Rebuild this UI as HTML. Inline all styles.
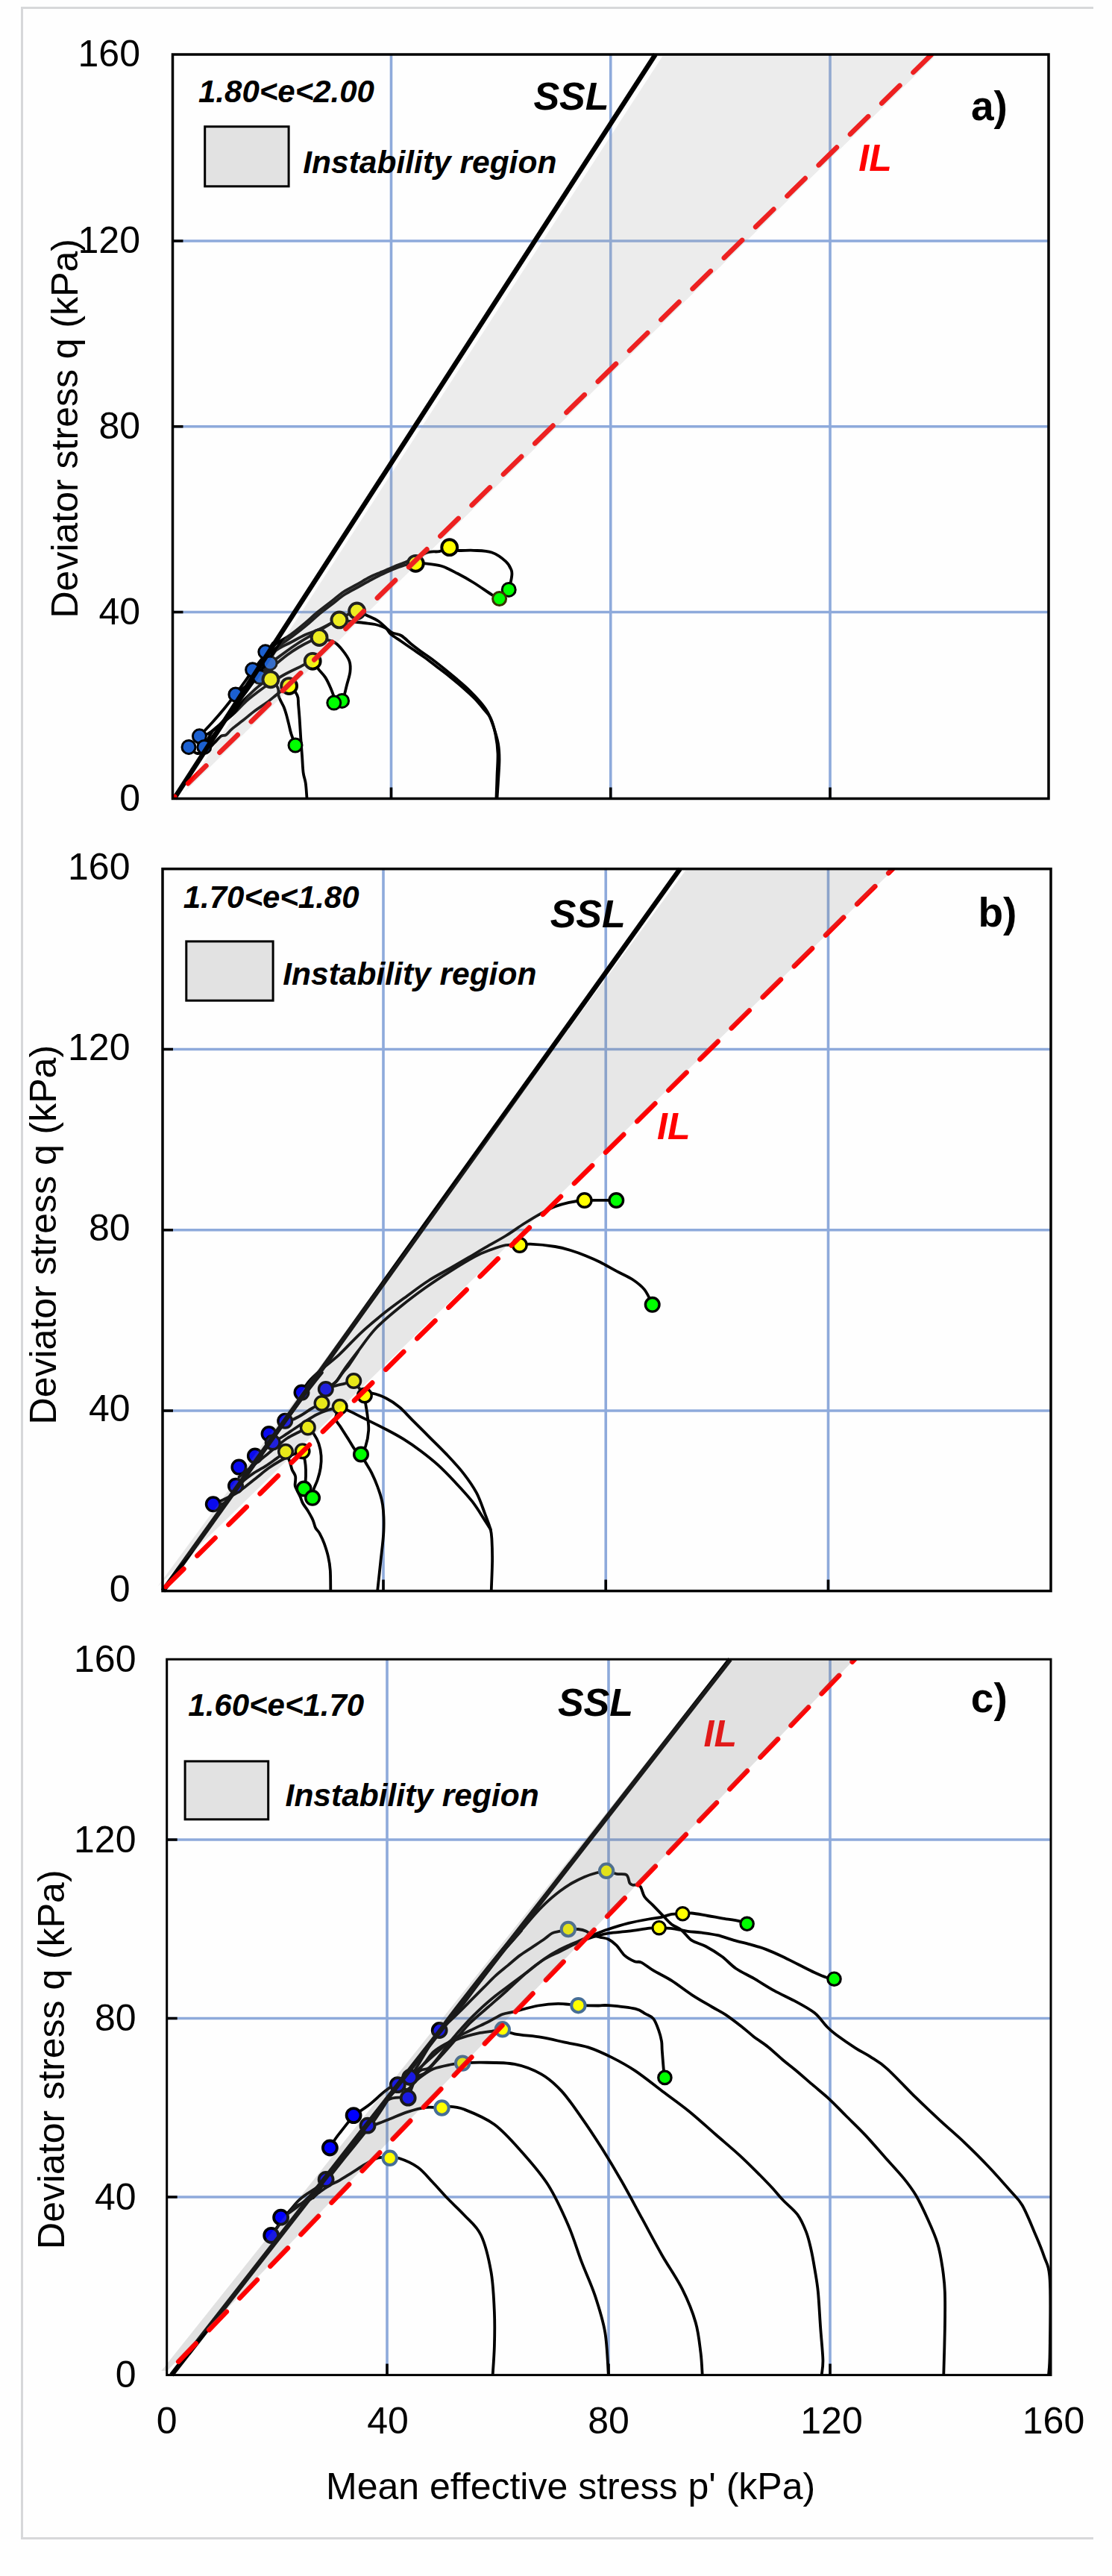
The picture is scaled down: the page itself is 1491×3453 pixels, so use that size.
<!DOCTYPE html><html><head><meta charset="utf-8"><style>
html,body{margin:0;padding:0;background:#fff;}
svg{display:block;}
text{font-family:"Liberation Sans", sans-serif;}
</style></head><body>
<svg width="1491" height="3453" viewBox="0 0 1491 3453">
<defs>
<clipPath id="clipa"><rect x="231.5" y="73" width="1174.5" height="997.5"/></clipPath>
<clipPath id="clipb"><rect x="218" y="1164.7" width="1191" height="967.8999999999999"/></clipPath>
<clipPath id="clipc"><rect x="223.7" y="2224.2" width="1185.3" height="959.4000000000001"/></clipPath>
</defs>
<rect x="0" y="0" width="1491" height="3453" fill="#fefefe"/>
<path d="M1466 10.5 H29.5 V3402.5 H1466" fill="none" stroke="#d7d8da" stroke-width="3"/>
<path d="M524.5 73V1070.5M818.75 73V1070.5M1113 73V1070.5M231.5 323H1406M231.5 571.75H1406M231.5 820.5H1406" stroke="#8eaadb" stroke-width="3.6" fill="none"/>
<g clip-path="url(#clipa)">
<path d="M666.6 1068.6C666.8 1065.0 667.5 1055.4 668.0 1047.0C668.5 1038.6 669.5 1026.3 669.5 1018.0C669.5 1009.7 669.2 1004.2 668.0 997.0C666.8 989.8 664.3 982.0 662.0 975.0C659.7 968.0 657.0 960.7 654.0 955.0C651.0 949.3 648.2 946.0 644.0 941.0C639.8 936.0 634.3 930.2 629.0 925.0C623.7 919.8 617.7 914.8 612.0 910.0C606.3 905.2 600.8 900.7 595.0 896.0C589.2 891.3 582.2 885.8 577.0 882.0C571.8 878.2 568.3 876.2 564.0 873.0C559.7 869.8 555.3 866.5 551.0 863.0C546.7 859.5 542.5 854.7 538.0 852.0C533.5 849.3 529.0 850.2 524.0 847.0C519.0 843.8 513.3 836.7 508.0 833.0C502.7 829.3 496.9 827.3 492.0 825.0C487.1 822.7 483.6 818.8 478.6 819.0C473.6 819.2 467.9 823.2 462.0 826.0C456.1 828.8 449.2 832.8 443.0 836.0C436.8 839.2 430.7 842.5 425.0 845.0C419.3 847.5 414.8 848.3 409.0 851.0C403.2 853.7 396.5 857.5 390.0 861.0C383.5 864.5 374.7 867.5 370.0 872.0C365.3 876.5 363.0 885.3 361.6 888.0" fill="none" stroke="#000" stroke-width="3.8" stroke-linejoin="round" stroke-linecap="round"/>
<path d="M665.5 1068.6C665.7 1063.8 666.2 1049.8 666.5 1040.0C666.8 1030.2 667.8 1019.2 667.5 1010.0C667.2 1000.8 666.1 992.8 664.5 985.0C662.9 977.2 660.6 968.7 658.0 963.0C655.4 957.3 652.7 955.5 649.0 951.0C645.3 946.5 640.7 940.8 636.0 936.0C631.3 931.2 626.5 926.8 621.0 922.0C615.5 917.2 608.8 911.7 603.0 907.0C597.2 902.3 591.7 898.3 586.0 894.0C580.3 889.7 574.5 885.0 569.0 881.0C563.5 877.0 558.3 873.7 553.0 870.0C547.7 866.3 541.8 862.3 537.0 859.0C532.2 855.7 527.3 852.8 524.0 850.0C520.7 847.2 520.5 844.2 517.0 842.0C513.5 839.8 507.8 838.2 503.0 837.0C498.2 835.8 493.5 835.7 488.0 835.0C482.5 834.3 475.5 833.7 470.0 833.0C464.5 832.3 459.9 830.1 454.9 830.9C449.9 831.7 445.8 834.8 440.0 838.0C434.2 841.2 426.7 846.0 420.0 850.0C413.3 854.0 406.7 857.7 400.0 862.0C393.3 866.3 386.3 871.3 380.0 876.0C373.7 880.7 367.3 884.8 362.0 890.0C356.7 895.2 350.6 904.6 348.3 907.5" fill="none" stroke="#000" stroke-width="3.8" stroke-linejoin="round" stroke-linecap="round"/>
<path d="M682.2 790.4C682.8 787.8 685.2 779.3 685.8 775.0C686.4 770.7 687.1 768.4 685.8 764.7C684.5 761.0 682.6 756.6 678.2 752.6C673.8 748.6 666.5 743.0 659.3 740.5C652.1 738.0 642.6 738.2 635.0 737.8C627.4 737.3 618.9 738.5 613.5 737.8C608.1 737.1 606.8 733.5 602.7 733.7C598.7 733.9 593.7 738.1 589.2 739.1C584.7 740.1 580.6 738.8 575.7 739.9C570.8 741.0 565.1 743.8 560.0 746.0C554.9 748.2 550.3 750.7 545.0 753.0C539.7 755.3 533.5 757.4 528.0 759.7C522.5 762.0 517.3 764.3 512.0 766.6C506.7 768.9 501.6 770.7 496.0 773.5C490.4 776.3 484.5 780.1 478.6 783.4C472.7 786.7 466.7 789.3 460.8 793.3C454.9 797.3 448.9 802.6 443.0 807.2C437.1 811.8 430.8 816.4 425.2 821.0C419.6 825.6 415.3 829.9 409.4 834.9C403.5 839.9 395.6 846.4 389.6 850.7C383.7 855.0 379.3 856.8 373.7 860.6C368.1 864.5 358.8 871.6 355.8 873.8" fill="none" stroke="#000" stroke-width="3.8" stroke-linejoin="round" stroke-linecap="round"/>
<path d="M669.6 802.5C667.9 801.6 665.1 800.7 659.3 797.1C653.5 793.5 642.6 785.7 635.0 781.0C627.4 776.3 620.7 772.5 613.5 768.8C606.3 765.1 599.1 761.0 591.9 758.8C584.7 756.5 576.1 755.9 570.3 755.3C564.5 754.7 561.5 755.0 557.3 755.3C553.1 755.6 549.5 755.9 545.0 757.0C540.5 758.1 535.2 760.0 530.0 762.0C524.8 764.0 519.3 766.5 514.0 769.0C508.7 771.5 503.7 774.0 498.0 777.0C492.3 780.0 486.0 783.7 480.0 787.0C474.0 790.3 467.8 793.2 462.0 797.0C456.2 800.8 450.8 805.5 445.0 810.0C439.2 814.5 432.7 819.3 427.0 824.0C421.3 828.7 416.8 833.2 411.0 838.0C405.2 842.8 398.0 848.5 392.0 853.0C386.0 857.5 380.0 861.2 375.0 865.0C370.0 868.8 366.5 871.8 362.0 876.0C357.5 880.2 351.9 886.4 348.0 890.0C344.1 893.6 340.2 896.5 338.6 897.8" fill="none" stroke="#000" stroke-width="3.8" stroke-linejoin="round" stroke-linecap="round"/>
<path d="M458.6 939.4C459.1 938.4 460.2 936.5 461.3 933.1C462.4 929.7 463.5 924.1 464.9 918.7C466.2 913.3 468.8 906.1 469.4 900.7C470.0 895.3 470.1 891.1 468.5 886.3C466.9 881.5 462.8 876.1 459.5 871.9C456.2 867.7 452.3 863.6 448.7 861.2C445.1 858.8 441.3 858.7 437.9 857.6C434.5 856.5 431.9 854.2 428.1 854.6C424.3 855.0 419.7 857.8 415.0 860.0C410.3 862.2 405.0 865.0 400.0 868.0C395.0 871.0 390.0 874.3 385.0 878.0C380.0 881.7 375.8 885.5 370.0 890.0C364.2 894.5 356.3 900.3 350.0 905.0C343.7 909.7 337.7 913.7 332.0 918.0C326.3 922.3 318.6 928.8 315.9 931.0" fill="none" stroke="#000" stroke-width="3.8" stroke-linejoin="round" stroke-linecap="round"/>
<path d="M447.8 942.1C447.8 940.9 448.6 938.2 447.8 934.9C447.1 931.6 445.2 926.8 443.3 922.3C441.4 917.8 438.8 912.1 436.1 907.9C433.4 903.7 429.9 900.7 427.1 897.1C424.3 893.5 423.7 886.6 419.2 886.3C414.7 885.9 406.5 891.9 400.0 895.0C393.5 898.1 386.3 901.5 380.0 905.0C373.7 908.5 367.8 912.2 362.0 916.0C356.2 919.8 350.3 924.0 345.0 928.0C339.7 932.0 335.0 935.5 330.0 940.0C325.0 944.5 320.0 950.3 315.0 955.0C310.0 959.7 305.0 963.8 300.0 968.0C295.0 972.2 289.4 974.4 285.0 980.0C280.6 985.6 275.7 997.8 273.8 1001.4" fill="none" stroke="#000" stroke-width="3.8" stroke-linejoin="round" stroke-linecap="round"/>
<path d="M396.0 999.0C395.1 996.4 391.9 988.3 390.4 983.6C388.9 978.9 388.3 974.9 387.2 970.6C386.1 966.3 385.0 961.5 383.9 957.7C382.8 953.9 382.0 951.2 380.7 948.0C379.4 944.8 377.0 941.0 375.8 938.3C374.6 935.6 373.9 934.5 373.4 931.8C372.9 929.1 374.4 925.6 372.6 922.1C370.9 918.6 366.9 911.3 362.9 910.8C358.8 910.2 353.4 915.0 348.3 918.8C343.2 922.6 337.5 928.3 332.1 933.4C326.7 938.5 320.6 945.0 316.0 949.6C311.4 954.2 308.7 956.9 304.6 960.9C300.6 964.9 296.0 970.1 291.7 973.9C287.4 977.7 282.8 981.5 278.7 983.6C274.6 985.8 269.3 986.3 267.4 986.8" fill="none" stroke="#000" stroke-width="3.8" stroke-linejoin="round" stroke-linecap="round"/>
<path d="M411.4 1068.6C411.1 1065.5 410.6 1055.5 409.8 1050.0C409.0 1044.5 407.4 1041.6 406.6 1035.4C405.8 1029.2 405.6 1020.3 405.0 1012.7C404.4 1005.1 403.9 998.1 403.3 990.0C402.8 981.9 402.2 971.8 401.7 964.2C401.2 956.7 400.6 950.1 400.1 944.7C399.6 939.3 400.6 936.0 398.5 931.8C396.4 927.6 391.7 920.1 387.6 919.6C383.6 919.1 379.1 925.0 374.2 928.6C369.3 932.2 363.4 937.5 358.0 941.5C352.6 945.5 347.2 948.8 341.8 952.8C336.4 956.8 330.7 961.8 325.6 965.8C320.5 969.8 314.9 973.9 311.1 977.1C307.3 980.3 305.4 983.6 303.0 985.2C300.6 986.8 299.2 984.9 296.5 986.8C293.8 988.7 289.6 993.8 286.8 996.5C284.1 999.2 283.6 1000.8 280.0 1003.0C276.4 1005.2 269.5 1010.3 265.0 1010.0C260.5 1009.7 255.0 1002.8 253.0 1001.4" fill="none" stroke="#000" stroke-width="3.8" stroke-linejoin="round" stroke-linecap="round"/>
<path d="M273.8 1001.4C276.8 997.5 286.0 985.7 292.0 978.0C298.0 970.3 304.3 962.5 310.0 955.0C315.7 947.5 320.7 940.3 326.0 933.0C331.3 925.7 337.0 918.2 342.0 911.0C347.0 903.8 351.7 896.5 356.0 890.0C360.3 883.5 364.0 877.3 368.0 872.0C372.0 866.7 378.0 860.3 380.0 858.0" fill="none" stroke="#000" stroke-width="3.8" stroke-linejoin="round" stroke-linecap="round"/>
<path d="M267.4 986.8C270.3 983.7 279.1 974.6 285.0 968.0C290.9 961.4 297.2 954.2 303.0 947.0C308.8 939.8 314.5 932.3 320.0 925.0C325.5 917.7 330.7 910.2 336.0 903.0C341.3 895.8 347.0 888.8 352.0 882.0C357.0 875.2 363.7 865.3 366.0 862.0" fill="none" stroke="#000" stroke-width="3.8" stroke-linejoin="round" stroke-linecap="round"/>
<circle cx="682.2" cy="790.4" r="9" fill="#00ff00" stroke="#000" stroke-width="3"/>
<circle cx="458.6" cy="939.4" r="9" fill="#00ff00" stroke="#000" stroke-width="3"/>
<circle cx="447.8" cy="942.1" r="9" fill="#00ff00" stroke="#000" stroke-width="3"/>
<circle cx="396" cy="999" r="9" fill="#00ff00" stroke="#000" stroke-width="3"/>
<circle cx="669.6" cy="802.5" r="9" fill="#00ff00" stroke="#3a3200" stroke-width="3"/>
<circle cx="253" cy="1001.4" r="9" fill="#1c60d0" stroke="#000" stroke-width="3"/>
<circle cx="267.4" cy="986.8" r="9" fill="#1c60d0" stroke="#000" stroke-width="3"/>
<circle cx="273.8" cy="1001.4" r="9" fill="#1c60d0" stroke="#000" stroke-width="3"/>
<circle cx="315.9" cy="931" r="9" fill="#1c60d0" stroke="#000" stroke-width="3"/>
<circle cx="338.6" cy="897.8" r="9" fill="#1c60d0" stroke="#000" stroke-width="3"/>
<circle cx="348.3" cy="907.5" r="9" fill="#1c60d0" stroke="#000" stroke-width="3"/>
<circle cx="355.8" cy="873.8" r="9" fill="#1c60d0" stroke="#000" stroke-width="3"/>
<circle cx="362.1" cy="888.9" r="9" fill="#1c60d0" stroke="#000" stroke-width="3"/>
<circle cx="602.7" cy="733.7" r="10.45" fill="#ffff00" stroke="#000" stroke-width="3.9"/>
<circle cx="557.3" cy="755.3" r="10.45" fill="#ffff00" stroke="#000" stroke-width="3.9"/>
<circle cx="478.6" cy="819" r="10.45" fill="#ffff00" stroke="#000" stroke-width="3.9"/>
<circle cx="454.9" cy="830.9" r="10.45" fill="#ffff00" stroke="#000" stroke-width="3.9"/>
<circle cx="428.1" cy="854.6" r="10.45" fill="#ffff00" stroke="#000" stroke-width="3.9"/>
<circle cx="419.2" cy="886.3" r="10.45" fill="#ffff00" stroke="#000" stroke-width="3.9"/>
<circle cx="362.9" cy="910.8" r="10.45" fill="#ffff00" stroke="#000" stroke-width="3.9"/>
<circle cx="387.6" cy="919.6" r="10.45" fill="#ffff00" stroke="#000" stroke-width="3.9"/>
</g>
<path d="M233.5 1070.5 L878.8 73" stroke="#000" stroke-width="6.5" fill="none"/>
<g clip-path="url(#clipa)"><path d="M231.5 1070.5 L1249 73" stroke="#ff0000" stroke-width="6.6" stroke-dasharray="33.9 25.3" stroke-dashoffset="30.2" stroke-linecap="round" fill="none"/></g>
<polygon points="246,1064 888.2,75.5 1253.4,75.5 240,1069" fill="#a3a3a3" fill-opacity="0.2"/>
<rect x="231.5" y="73" width="1174.5" height="997.5" fill="none" stroke="#000" stroke-width="3.5"/>
<path d="M231.5 323H245.5M231.5 571.75H245.5M231.5 820.5H245.5M524.5 1070.5V1055.5M818.75 1070.5V1055.5M1113 1070.5V1055.5" stroke="#000" stroke-width="3.6" fill="none"/>
<text x="188.0" y="89" font-size="50" text-anchor="end">160</text>
<text x="188.0" y="339" font-size="50" text-anchor="end">120</text>
<text x="188.0" y="587.75" font-size="50" text-anchor="end">80</text>
<text x="188.0" y="836.5" font-size="50" text-anchor="end">40</text>
<text x="188.0" y="1086.5" font-size="50" text-anchor="end">0</text>
<text transform="translate(104 574.25) rotate(-90)" font-size="50" text-anchor="middle">Deviator stress q (kPa)</text>
<text x="266" y="136.5" font-size="42" font-weight="bold" font-style="italic">1.80&lt;e&lt;2.00</text>
<rect x="274.7" y="169.7" width="112.40000000000003" height="80.10000000000002" fill="#e2e2e2" stroke="#000" stroke-width="3"/>
<text x="406.3" y="232.4" font-size="42.5" font-weight="bold" font-style="italic">Instability region</text>
<text x="715.4" y="147" font-size="52" font-weight="bold" font-style="italic">SSL</text>
<text x="1151.3" y="229" font-size="50" font-weight="bold" font-style="italic" fill="#ff0000">IL</text>
<text x="1301.9" y="161" font-size="55" font-weight="bold">a)</text>
<path d="M514 1164.7V2132.6M812.25 1164.7V2132.6M1110.5 1164.7V2132.6M218 1406.5H1409M218 1648.75H1409M218 1891H1409" stroke="#8eaadb" stroke-width="3.6" fill="none"/>
<g clip-path="url(#clipb)">
<path d="M826.3 1609.0C819.2 1609.0 794.6 1608.5 783.7 1609.0C772.8 1609.5 767.5 1610.9 761.0 1612.3C754.5 1613.7 750.3 1614.9 744.4 1617.2C738.5 1619.5 732.7 1622.5 725.8 1626.3C718.9 1630.1 710.9 1635.0 703.0 1640.0C695.1 1645.0 687.2 1651.0 678.2 1656.5C669.2 1662.0 657.5 1668.3 649.2 1673.1C640.9 1677.9 636.2 1681.0 628.6 1685.5C621.0 1690.0 612.7 1694.8 603.7 1700.0C594.7 1705.2 584.4 1710.3 574.8 1716.5C565.1 1722.7 556.1 1729.6 545.8 1737.2C535.4 1744.8 523.0 1753.7 512.7 1762.0C502.4 1770.3 493.5 1777.8 483.8 1786.8C474.1 1795.8 463.8 1807.5 454.8 1815.8C445.8 1824.1 436.8 1830.5 430.0 1836.5C423.2 1842.5 418.2 1847.0 414.0 1852.0C409.8 1857.0 406.1 1864.2 404.5 1866.6" fill="none" stroke="#000" stroke-width="3.8" stroke-linejoin="round" stroke-linecap="round"/>
<path d="M874.7 1748.8C873.0 1745.5 868.8 1734.5 864.3 1728.9C859.8 1723.3 854.2 1719.1 848.0 1715.0C841.8 1710.9 834.3 1707.9 827.1 1704.1C819.9 1700.3 811.9 1695.5 805.0 1692.0C798.1 1688.5 792.5 1686.1 785.8 1683.4C779.1 1680.7 771.9 1678.1 765.0 1676.0C758.1 1673.9 753.4 1672.4 744.4 1671.0C735.4 1669.6 719.2 1668.0 711.3 1667.7C703.4 1667.4 702.3 1668.7 696.8 1668.9C691.3 1669.1 685.0 1667.8 678.2 1669.0C671.4 1670.2 662.9 1673.5 656.0 1676.0C649.1 1678.5 645.5 1679.6 636.8 1684.3C628.1 1689.0 614.7 1697.1 603.7 1704.1C592.7 1711.0 581.6 1718.2 570.6 1726.0C559.6 1733.8 548.6 1742.0 537.6 1751.0C526.6 1760.0 514.2 1769.9 504.5 1780.0C494.8 1790.1 486.7 1802.5 479.6 1811.7C472.5 1820.9 466.9 1828.2 462.0 1835.0C457.1 1841.8 454.3 1848.3 450.0 1852.7C445.7 1857.1 438.5 1859.9 436.2 1861.3" fill="none" stroke="#000" stroke-width="3.8" stroke-linejoin="round" stroke-linecap="round"/>
<path d="M658.8 2131.0C659.0 2124.6 660.0 2103.8 660.1 2092.8C660.2 2081.8 659.9 2072.1 659.5 2065.0C659.1 2057.9 659.2 2055.9 657.7 2050.1C656.2 2044.2 653.6 2038.1 650.5 2029.9C647.4 2021.8 643.8 2010.3 639.0 2001.2C634.2 1992.1 628.4 1983.9 621.7 1975.3C615.0 1966.7 606.4 1957.6 598.7 1949.4C591.0 1941.2 583.4 1934.0 575.7 1926.3C568.0 1918.6 559.4 1910.0 552.7 1903.3C546.0 1896.6 541.2 1890.8 535.4 1886.0C529.6 1881.2 524.3 1877.6 518.1 1874.5C511.9 1871.4 502.9 1868.0 498.0 1867.3C493.1 1866.6 490.4 1870.0 488.9 1870.5" fill="none" stroke="#000" stroke-width="3.8" stroke-linejoin="round" stroke-linecap="round"/>
<path d="M657.7 2050.1C656.5 2048.2 654.6 2044.8 650.5 2038.6C646.4 2032.4 639.9 2021.3 633.2 2012.7C626.5 2004.1 617.9 1995.0 610.2 1986.8C602.5 1978.6 594.9 1970.7 587.2 1963.7C579.5 1956.7 571.9 1950.8 564.2 1945.0C556.5 1939.2 548.9 1934.0 541.2 1929.2C533.5 1924.4 526.7 1920.8 518.1 1916.3C509.5 1911.8 498.0 1906.2 489.4 1901.9C480.8 1897.6 471.8 1893.0 466.3 1890.4C460.8 1887.8 458.0 1887.1 456.4 1886.4" fill="none" stroke="#000" stroke-width="3.8" stroke-linejoin="round" stroke-linecap="round"/>
<path d="M506.3 2131.0C507.0 2124.6 509.0 2105.9 510.4 2092.8C511.8 2079.7 513.9 2064.9 514.4 2052.3C514.9 2039.7 514.5 2027.2 513.1 2017.3C511.8 2007.4 508.8 2000.2 506.3 1993.0C503.8 1985.8 500.9 1979.6 498.2 1974.1C495.5 1968.6 492.4 1964.1 490.0 1960.0C487.6 1955.9 485.0 1951.2 484.0 1949.5" fill="none" stroke="#000" stroke-width="3.8" stroke-linejoin="round" stroke-linecap="round"/>
<path d="M484.0 1949.5C485.0 1947.8 488.4 1944.3 490.1 1939.0C491.8 1933.7 493.8 1924.1 494.2 1917.4C494.6 1910.7 493.5 1904.7 492.8 1898.6C492.1 1892.5 490.8 1885.7 490.1 1881.0C489.5 1876.3 489.1 1872.2 488.9 1870.5" fill="none" stroke="#000" stroke-width="3.8" stroke-linejoin="round" stroke-linecap="round"/>
<path d="M484.0 1949.5C482.7 1948.5 478.7 1946.5 476.0 1943.3C473.3 1940.1 471.1 1935.5 467.9 1930.4C464.6 1925.3 459.5 1917.5 456.5 1912.6C453.5 1907.7 450.1 1905.7 450.0 1901.2C449.9 1896.7 454.8 1888.4 455.7 1885.8" fill="none" stroke="#000" stroke-width="3.8" stroke-linejoin="round" stroke-linecap="round"/>
<path d="M443.3 2131.0C443.2 2126.7 443.3 2112.2 442.8 2104.9C442.3 2097.6 441.5 2092.9 440.1 2086.9C438.8 2080.9 436.6 2074.2 434.7 2068.9C432.8 2063.7 430.4 2058.9 428.5 2055.4C426.6 2051.9 424.6 2051.2 423.1 2048.2C421.6 2045.2 421.1 2041.1 419.5 2037.4C417.9 2033.7 415.4 2029.5 413.2 2025.8C410.9 2022.1 407.8 2018.3 406.0 2015.0C404.2 2011.7 403.9 2009.3 402.4 2006.0C400.9 2002.7 398.1 1997.5 397.0 1995.0C395.9 1992.5 395.8 1993.4 395.6 1990.7C395.5 1988.0 396.8 1982.5 396.1 1979.0C395.4 1975.5 392.9 1973.2 391.6 1970.0C390.4 1966.8 390.0 1963.5 388.6 1959.5C387.2 1955.5 383.9 1948.1 383.0 1945.8" fill="none" stroke="#000" stroke-width="3.8" stroke-linejoin="round" stroke-linecap="round"/>
<path d="M419.0 2007.8C419.2 2006.0 419.3 2001.0 420.4 1997.0C421.5 1993.0 424.2 1988.4 425.8 1983.5C427.4 1978.6 429.0 1972.9 429.8 1967.6C430.6 1962.2 431.0 1956.8 430.6 1951.4C430.2 1946.0 429.0 1940.1 427.4 1935.2C425.8 1930.3 423.3 1925.9 420.9 1922.3C418.5 1918.7 414.1 1914.9 412.8 1913.4" fill="none" stroke="#000" stroke-width="3.8" stroke-linejoin="round" stroke-linecap="round"/>
<path d="M407.6 1995.6C407.9 1994.0 409.2 1990.5 409.6 1986.2C410.0 1981.9 410.1 1974.7 410.0 1970.0C409.9 1965.3 409.5 1962.0 408.8 1957.9C408.1 1953.8 406.1 1947.3 405.6 1945.2" fill="none" stroke="#000" stroke-width="3.8" stroke-linejoin="round" stroke-linecap="round"/>
<path d="M474.3 1851.0C472.4 1851.5 467.6 1853.1 463.0 1854.3C458.4 1855.5 451.2 1857.0 446.8 1858.3C442.4 1859.6 438.5 1861.4 436.8 1862.0" fill="none" stroke="#000" stroke-width="3.8" stroke-linejoin="round" stroke-linecap="round"/>
<path d="M488.9 1870.5C487.6 1868.8 483.4 1863.2 481.0 1860.0C478.6 1856.8 475.4 1852.5 474.3 1851.0" fill="none" stroke="#000" stroke-width="3.8" stroke-linejoin="round" stroke-linecap="round"/>
<path d="M431.5 1881.0C429.2 1882.2 422.6 1885.3 418.0 1888.0C413.4 1890.7 408.3 1894.5 404.0 1897.0C399.7 1899.5 395.6 1901.7 392.0 1903.0C388.4 1904.3 383.8 1904.4 382.2 1904.7" fill="none" stroke="#000" stroke-width="3.8" stroke-linejoin="round" stroke-linecap="round"/>
<path d="M455.7 1885.8C453.1 1886.5 445.1 1888.3 440.0 1890.0C434.9 1891.7 430.0 1893.5 425.0 1896.0C420.0 1898.5 415.0 1901.8 410.0 1905.0C405.0 1908.2 400.0 1911.7 395.0 1915.0C390.0 1918.3 384.9 1921.9 380.0 1925.0C375.1 1928.1 368.1 1932.1 365.7 1933.5" fill="none" stroke="#000" stroke-width="3.8" stroke-linejoin="round" stroke-linecap="round"/>
<path d="M412.8 1913.4C410.7 1914.5 404.6 1917.6 400.0 1920.0C395.4 1922.4 389.7 1925.0 385.0 1928.0C380.3 1931.0 376.2 1934.7 372.0 1938.0C367.8 1941.3 364.5 1944.3 360.0 1948.0C355.5 1951.7 350.0 1956.0 345.0 1960.0C340.0 1964.0 334.1 1968.7 330.0 1972.0C325.9 1975.3 322.0 1978.7 320.4 1980.0" fill="none" stroke="#000" stroke-width="3.8" stroke-linejoin="round" stroke-linecap="round"/>
<path d="M383.0 1945.8C380.9 1947.3 375.1 1951.9 370.7 1955.1C366.2 1958.3 361.6 1961.8 356.3 1965.2C351.0 1968.6 343.9 1972.2 339.1 1975.3C334.3 1978.4 331.5 1981.2 327.6 1983.9C323.8 1986.7 317.9 1990.5 316.0 1991.8" fill="none" stroke="#000" stroke-width="3.8" stroke-linejoin="round" stroke-linecap="round"/>
<path d="M405.6 1945.2C403.3 1946.0 396.9 1947.9 392.0 1950.0C387.1 1952.1 381.3 1955.0 376.0 1958.0C370.7 1961.0 365.2 1964.3 360.0 1968.0C354.8 1971.7 350.0 1976.0 345.0 1980.0C340.0 1984.0 334.8 1988.3 330.0 1992.0C325.2 1995.7 321.0 1999.0 316.0 2002.0C311.0 2005.0 305.0 2007.6 300.0 2010.0C295.0 2012.4 288.2 2015.2 285.8 2016.3" fill="none" stroke="#000" stroke-width="3.8" stroke-linejoin="round" stroke-linecap="round"/>
<path d="M285.8 2016.3C287.8 2016.2 294.6 2017.0 298.0 2016.0C301.4 2015.0 302.7 2013.3 306.0 2010.0C309.3 2006.7 313.8 2001.3 318.0 1996.0C322.2 1990.7 326.5 1984.3 331.0 1978.0C335.5 1971.7 340.2 1964.8 345.0 1958.0C349.8 1951.2 355.0 1944.0 360.0 1937.0C365.0 1930.0 370.0 1923.0 375.0 1916.0C380.0 1909.0 385.2 1901.8 390.0 1895.0C394.8 1888.2 399.5 1881.3 404.0 1875.0C408.5 1868.7 412.7 1862.8 417.0 1857.0C421.3 1851.2 427.8 1842.8 430.0 1840.0" fill="none" stroke="#000" stroke-width="3.8" stroke-linejoin="round" stroke-linecap="round"/>
<path d="M316.0 1991.8C318.0 1989.5 323.2 1984.1 328.0 1978.0C332.8 1971.9 339.3 1962.7 345.0 1955.0C350.7 1947.3 356.2 1939.8 362.0 1932.0C367.8 1924.2 374.0 1916.0 380.0 1908.0C386.0 1900.0 392.0 1892.0 398.0 1884.0C404.0 1876.0 410.3 1867.3 416.0 1860.0C421.7 1852.7 429.3 1843.3 432.0 1840.0" fill="none" stroke="#000" stroke-width="3.8" stroke-linejoin="round" stroke-linecap="round"/>
<path d="M436.8 1862.0C439.0 1860.5 446.2 1856.4 450.0 1852.7C453.8 1849.0 456.8 1843.5 459.8 1839.7C462.8 1835.9 464.5 1834.6 467.9 1830.0C471.3 1825.4 478.0 1815.0 480.0 1812.0" fill="none" stroke="#000" stroke-width="3.8" stroke-linejoin="round" stroke-linecap="round"/>
<circle cx="826.3" cy="1609" r="9.3" fill="#00ff00" stroke="#000" stroke-width="3.4"/>
<circle cx="874.7" cy="1748.8" r="9.3" fill="#00ff00" stroke="#000" stroke-width="3.4"/>
<circle cx="484" cy="1949.5" r="9.3" fill="#00ff00" stroke="#000" stroke-width="3.4"/>
<circle cx="407.6" cy="1995.6" r="9.3" fill="#00ff00" stroke="#000" stroke-width="3.4"/>
<circle cx="419" cy="2007.8" r="9.3" fill="#00ff00" stroke="#000" stroke-width="3.4"/>
<circle cx="404.5" cy="1866.6" r="9.3" fill="#0a0af0" stroke="#000" stroke-width="3.4"/>
<circle cx="436.8" cy="1862" r="9.3" fill="#0a0af0" stroke="#000" stroke-width="3.4"/>
<circle cx="382.2" cy="1904.7" r="9.3" fill="#0a0af0" stroke="#000" stroke-width="3.4"/>
<circle cx="360.6" cy="1922" r="9.3" fill="#0a0af0" stroke="#000" stroke-width="3.4"/>
<circle cx="365.7" cy="1933.5" r="9.3" fill="#0a0af0" stroke="#000" stroke-width="3.4"/>
<circle cx="341.9" cy="1951.5" r="9.3" fill="#0a0af0" stroke="#000" stroke-width="3.4"/>
<circle cx="320.4" cy="1966.6" r="9.3" fill="#0a0af0" stroke="#000" stroke-width="3.4"/>
<circle cx="316" cy="1991.8" r="9.3" fill="#0a0af0" stroke="#000" stroke-width="3.4"/>
<circle cx="285.8" cy="2016.3" r="9.3" fill="#0a0af0" stroke="#000" stroke-width="3.4"/>
<circle cx="783.7" cy="1609" r="9.3" fill="#ffff00" stroke="#000" stroke-width="3.4"/>
<circle cx="696.8" cy="1668.9" r="9.3" fill="#ffff00" stroke="#000" stroke-width="3.4"/>
<circle cx="474.3" cy="1851" r="9.3" fill="#ffff00" stroke="#000" stroke-width="3.4"/>
<circle cx="488.9" cy="1870.5" r="9.3" fill="#ffff00" stroke="#000" stroke-width="3.4"/>
<circle cx="431.5" cy="1881" r="9.3" fill="#ffff00" stroke="#000" stroke-width="3.4"/>
<circle cx="455.7" cy="1885.8" r="9.3" fill="#ffff00" stroke="#000" stroke-width="3.4"/>
<circle cx="412.8" cy="1913.4" r="9.3" fill="#ffff00" stroke="#000" stroke-width="3.4"/>
<circle cx="383" cy="1945.8" r="9.3" fill="#ffff00" stroke="#000" stroke-width="3.4"/>
<circle cx="405.6" cy="1945.2" r="9.3" fill="#ffff00" stroke="#000" stroke-width="3.4"/>
</g>
<path d="M218.5 2132.6 L911.8 1164.7" stroke="#000" stroke-width="6.5" fill="none"/>
<g clip-path="url(#clipb)"><path d="M216.5 2132.6 L1197 1164.7" stroke="#ff0000" stroke-width="6.6" stroke-dasharray="33.9 25.3" stroke-dashoffset="51.1" stroke-linecap="round" fill="none"/></g>
<polygon points="211.5,2126.4 919.4,1166.5 1197,1166.5" fill="#858585" fill-opacity="0.188"/>
<rect x="218" y="1164.7" width="1191" height="967.8999999999999" fill="none" stroke="#000" stroke-width="3.5"/>
<path d="M218 1406.5H232M218 1648.75H232M218 1891H232M514 2132.6V2117.6M812.25 2132.6V2117.6M1110.5 2132.6V2117.6" stroke="#000" stroke-width="3.6" fill="none"/>
<text x="174.5" y="1178.7" font-size="50" text-anchor="end">160</text>
<text x="174.5" y="1420.5" font-size="50" text-anchor="end">120</text>
<text x="174.5" y="1662.75" font-size="50" text-anchor="end">80</text>
<text x="174.5" y="1905" font-size="50" text-anchor="end">40</text>
<text x="174.5" y="2146.6" font-size="50" text-anchor="end">0</text>
<text transform="translate(75 1655.2) rotate(-90)" font-size="50" text-anchor="middle">Deviator stress q (kPa)</text>
<text x="245.7" y="1217" font-size="42" font-weight="bold" font-style="italic">1.70&lt;e&lt;1.80</text>
<rect x="249.8" y="1261.9" width="116.30000000000001" height="79.29999999999995" fill="#e2e2e2" stroke="#000" stroke-width="3"/>
<text x="379.3" y="1319.7" font-size="42.5" font-weight="bold" font-style="italic">Instability region</text>
<text x="737.7" y="1242.5" font-size="52" font-weight="bold" font-style="italic">SSL</text>
<text x="881" y="1527" font-size="50" font-weight="bold" font-style="italic" fill="#ff0000">IL</text>
<text x="1311.4" y="1242.3" font-size="55" font-weight="bold">b)</text>
<path d="M519 2224.2V3183.6M816 2224.2V3183.6M1113 2224.2V3183.6M223.7 2466H1409M223.7 2705.5H1409M223.7 2945H1409" stroke="#8eaadb" stroke-width="3.6" fill="none"/>
<g clip-path="url(#clipc)">
<path d="M813.1 2507.8C815.4 2508.5 822.1 2510.9 826.6 2511.8C831.1 2512.7 837.2 2511.2 840.1 2513.2C843.0 2515.2 842.9 2521.8 844.2 2524.0C845.6 2526.2 846.6 2526.2 848.2 2526.7C849.8 2527.1 851.8 2526.2 853.6 2526.7C855.4 2527.1 857.2 2526.7 859.0 2529.4C860.8 2532.1 861.7 2538.8 864.4 2542.8C867.1 2546.8 871.0 2549.3 875.2 2553.6C879.4 2557.9 885.5 2564.3 889.7 2568.6C893.9 2572.9 896.5 2576.3 900.5 2579.4C904.5 2582.5 909.5 2583.8 914.0 2587.4C918.5 2591.0 922.0 2597.3 927.4 2600.9C932.8 2604.5 939.5 2605.4 946.3 2609.0C953.0 2612.6 961.1 2617.6 967.9 2622.5C974.6 2627.4 979.6 2633.8 986.8 2638.7C994.0 2643.6 1002.6 2647.2 1011.1 2652.2C1019.6 2657.1 1029.1 2663.4 1038.1 2668.4C1047.1 2673.4 1056.0 2677.0 1065.0 2681.9C1074.0 2686.8 1084.8 2692.4 1092.0 2698.1C1099.2 2703.8 1103.4 2711.3 1108.3 2716.2C1113.2 2721.1 1114.7 2722.7 1121.2 2727.5C1127.7 2732.3 1139.5 2740.4 1147.1 2745.3C1154.6 2750.2 1159.5 2752.1 1166.5 2756.7C1173.5 2761.3 1179.0 2763.6 1189.2 2772.8C1199.5 2782.0 1216.1 2800.1 1228.0 2811.7C1239.9 2823.3 1249.6 2832.4 1260.4 2842.4C1271.2 2852.4 1282.0 2861.3 1292.8 2871.6C1303.6 2881.9 1315.0 2893.2 1325.2 2904.0C1335.5 2914.8 1346.8 2927.7 1354.3 2936.3C1361.8 2944.9 1365.1 2946.6 1370.5 2955.8C1375.9 2965.0 1381.9 2980.1 1386.7 2991.4C1391.5 3002.7 1396.1 3012.9 1399.6 3023.7C1403.1 3034.5 1406.3 3034.5 1407.7 3056.1C1409.1 3077.7 1408.0 3132.1 1407.7 3153.2C1407.4 3174.2 1406.4 3177.5 1406.1 3182.4" fill="none" stroke="#000" stroke-width="3.8" stroke-linejoin="round" stroke-linecap="round"/>
<path d="M813.1 2507.8C810.9 2508.2 804.5 2509.2 799.6 2510.5C794.7 2511.8 788.9 2513.7 783.5 2515.9C778.1 2518.2 772.7 2520.9 767.3 2524.0C761.9 2527.1 756.5 2530.7 751.1 2534.7C745.7 2538.7 740.3 2543.2 734.9 2548.2C729.5 2553.1 724.1 2558.6 718.7 2564.4C713.3 2570.2 707.9 2577.0 702.5 2583.3C697.1 2589.6 691.7 2595.9 686.3 2602.2C680.9 2608.5 675.5 2614.3 670.1 2621.1C664.7 2627.8 659.4 2635.5 654.0 2642.7C648.6 2649.9 643.2 2657.0 637.8 2664.2C632.4 2671.4 627.1 2679.0 621.6 2685.8C616.1 2692.6 610.4 2699.1 605.0 2705.0C599.6 2710.9 591.8 2718.8 589.2 2721.5" fill="none" stroke="#000" stroke-width="3.8" stroke-linejoin="round" stroke-linecap="round"/>
<path d="M761.9 2586.0C764.1 2586.0 771.4 2585.6 775.4 2586.0C779.4 2586.4 783.0 2587.3 786.1 2588.7C789.2 2590.0 791.1 2592.8 794.2 2594.1C797.4 2595.4 801.4 2595.9 805.0 2596.8C808.6 2597.7 812.2 2597.7 815.8 2599.5C819.4 2601.3 823.0 2604.0 826.6 2607.6C830.2 2611.2 833.4 2617.5 837.4 2621.1C841.4 2624.7 847.1 2627.6 850.9 2629.2C854.7 2630.8 855.8 2628.6 860.0 2630.6C864.2 2632.6 869.5 2637.3 876.2 2641.4C883.0 2645.5 892.0 2649.5 900.5 2654.9C909.0 2660.3 918.4 2668.0 927.4 2673.8C936.4 2679.7 946.8 2685.5 954.4 2690.0C962.0 2694.5 966.5 2696.3 973.3 2700.8C980.0 2705.3 988.6 2712.0 994.9 2716.9C1001.2 2721.8 1005.2 2725.9 1011.1 2730.4C1017.0 2734.9 1023.5 2738.7 1030.0 2743.9C1036.5 2749.1 1044.0 2756.4 1050.0 2761.5C1056.0 2766.6 1059.7 2769.1 1066.2 2774.5C1072.7 2779.9 1081.2 2787.4 1088.8 2793.9C1096.3 2800.4 1103.9 2806.3 1111.5 2813.3C1119.1 2820.3 1126.1 2827.9 1134.2 2836.0C1142.3 2844.1 1151.5 2852.7 1160.1 2861.9C1168.7 2871.1 1177.4 2881.3 1186.0 2891.0C1194.6 2900.7 1204.9 2911.5 1211.9 2920.1C1218.9 2928.7 1222.7 2933.6 1228.1 2942.8C1233.5 2952.0 1239.3 2964.4 1244.2 2975.2C1249.1 2986.0 1254.0 2996.8 1257.2 3007.6C1260.5 3018.4 1262.1 3029.1 1263.7 3039.9C1265.3 3050.7 1266.4 3058.8 1266.9 3072.3C1267.4 3085.8 1267.2 3102.6 1266.9 3120.9C1266.6 3139.2 1265.6 3172.2 1265.3 3182.4" fill="none" stroke="#000" stroke-width="3.8" stroke-linejoin="round" stroke-linecap="round"/>
<path d="M761.9 2586.0C760.1 2586.4 754.7 2587.8 751.1 2588.7C747.5 2589.6 743.9 2589.6 740.3 2591.4C736.7 2593.2 734.0 2596.3 729.5 2599.5C725.0 2602.7 718.7 2606.7 713.3 2610.3C707.9 2613.9 702.5 2617.1 697.1 2621.1C691.7 2625.1 686.3 2630.1 680.9 2634.6C675.5 2639.1 670.1 2643.2 664.7 2648.1C659.3 2653.0 654.0 2658.8 648.6 2664.2C643.2 2669.6 637.8 2675.0 632.4 2680.4C627.0 2685.8 621.6 2691.3 616.2 2696.6C610.8 2701.9 604.5 2707.8 600.0 2712.0C595.5 2716.2 591.0 2719.9 589.2 2721.5" fill="none" stroke="#000" stroke-width="3.8" stroke-linejoin="round" stroke-linecap="round"/>
<path d="M1001.6 2578.8C1000.0 2578.2 997.8 2576.6 992.2 2575.3C986.6 2574.1 975.1 2572.5 967.9 2571.3C960.7 2570.1 955.8 2569.1 949.0 2568.0C942.2 2566.9 933.0 2564.9 927.4 2564.5C921.8 2564.1 919.8 2565.1 915.3 2565.3C910.8 2565.5 905.2 2565.1 900.5 2565.9C895.8 2566.7 892.1 2568.8 887.0 2569.9C881.9 2571.0 877.2 2571.2 869.8 2572.5C862.4 2573.8 851.8 2575.7 842.8 2577.9C833.8 2580.2 823.9 2583.3 815.8 2586.0C807.7 2588.7 800.9 2591.4 794.2 2594.1C787.5 2596.8 782.6 2599.0 775.4 2602.2C768.2 2605.3 758.8 2609.0 751.1 2613.0C743.5 2617.0 737.2 2620.7 729.5 2626.0C721.8 2631.3 713.2 2638.0 705.0 2645.0C696.8 2652.0 688.3 2660.5 680.0 2668.0C671.7 2675.5 663.3 2682.7 655.0 2690.0C646.7 2697.3 637.5 2704.5 630.0 2712.0C622.5 2719.5 615.8 2728.3 610.0 2735.0C604.2 2741.7 599.5 2747.0 595.0 2752.0C590.5 2757.0 587.5 2760.3 583.0 2765.0C578.5 2769.7 573.5 2776.8 568.0 2780.0C562.5 2783.2 552.8 2783.8 549.7 2784.5" fill="none" stroke="#000" stroke-width="3.8" stroke-linejoin="round" stroke-linecap="round"/>
<path d="M1118.5 2652.7C1116.8 2652.4 1112.6 2652.2 1108.2 2650.8C1103.8 2649.4 1098.3 2647.0 1092.0 2644.1C1085.7 2641.2 1077.6 2636.9 1070.4 2633.3C1063.2 2629.7 1056.0 2625.9 1048.8 2622.5C1041.6 2619.1 1034.5 2615.8 1027.3 2613.1C1020.1 2610.4 1012.9 2608.3 1005.7 2606.3C998.5 2604.3 991.3 2602.9 984.1 2600.9C976.9 2598.9 969.7 2595.9 962.5 2594.2C955.3 2592.5 947.6 2591.6 940.9 2590.7C934.2 2589.8 928.4 2589.7 922.1 2588.8C915.8 2587.9 909.6 2586.1 903.2 2585.3C896.8 2584.5 889.1 2584.3 883.7 2584.2C878.3 2584.1 877.6 2583.9 870.8 2584.7C864.0 2585.4 852.0 2587.6 842.8 2588.7C833.6 2589.8 823.9 2590.1 815.8 2591.4C807.7 2592.8 801.4 2594.6 794.2 2596.8C787.0 2599.1 779.9 2601.8 772.7 2604.9C765.5 2608.1 758.3 2612.1 751.1 2615.7C743.9 2619.3 736.7 2622.0 729.5 2626.5C722.3 2631.0 715.1 2637.3 707.9 2642.7C700.7 2648.1 693.5 2653.4 686.3 2658.8C679.1 2664.2 671.4 2669.6 664.7 2675.0C658.0 2680.4 652.5 2685.0 645.9 2691.2C639.3 2697.4 631.8 2704.7 625.0 2712.0C618.2 2719.3 610.8 2727.8 605.0 2735.0C599.2 2742.2 595.0 2748.8 590.0 2755.0C585.0 2761.2 579.8 2768.2 575.0 2772.0C570.2 2775.8 565.6 2771.3 561.0 2778.0C556.4 2784.7 549.5 2806.5 547.2 2812.2" fill="none" stroke="#000" stroke-width="3.8" stroke-linejoin="round" stroke-linecap="round"/>
<path d="M775.4 2688.2C779.9 2688.2 795.6 2688.5 802.3 2688.5C809.0 2688.5 807.5 2687.5 815.8 2688.2C824.0 2688.9 843.5 2690.8 851.8 2692.7C860.1 2694.6 861.3 2697.2 865.4 2699.4C869.5 2701.6 873.2 2702.3 876.2 2706.1C879.2 2709.8 881.5 2716.9 883.3 2721.9C885.1 2726.9 886.2 2731.3 887.0 2735.8C887.8 2740.3 887.3 2742.2 887.8 2748.9C888.3 2755.6 889.4 2769.9 890.0 2775.9C890.6 2781.9 891.2 2783.4 891.4 2784.9" fill="none" stroke="#000" stroke-width="3.8" stroke-linejoin="round" stroke-linecap="round"/>
<path d="M775.4 2688.2C770.9 2687.8 757.4 2685.8 748.4 2685.8C739.4 2685.9 731.3 2686.7 721.4 2688.5C711.5 2690.3 696.9 2694.7 689.0 2696.6C681.1 2698.5 679.5 2697.8 673.8 2700.0C668.1 2702.2 662.3 2706.3 655.0 2710.0C647.7 2713.7 638.3 2717.8 630.0 2722.0C621.7 2726.2 612.5 2730.0 605.0 2735.0C597.5 2740.0 591.7 2746.2 585.0 2752.0C578.3 2757.8 570.9 2764.6 565.0 2770.0C559.1 2775.4 552.2 2782.1 549.7 2784.5" fill="none" stroke="#000" stroke-width="3.8" stroke-linejoin="round" stroke-linecap="round"/>
<path d="M673.8 2720.3C676.5 2721.3 681.2 2724.6 689.9 2726.4C698.6 2728.2 714.6 2729.0 725.9 2730.9C737.1 2732.8 746.9 2735.4 757.4 2737.7C767.9 2739.9 778.3 2741.0 788.8 2744.4C799.3 2747.8 809.8 2752.7 820.3 2757.9C830.8 2763.2 840.5 2768.4 851.8 2775.9C863.0 2783.4 875.8 2793.9 887.8 2802.9C899.8 2811.9 911.7 2820.2 923.7 2829.9C935.7 2839.6 947.7 2850.8 959.7 2861.3C971.7 2871.8 983.7 2881.6 995.7 2892.8C1007.7 2904.1 1022.7 2919.4 1031.7 2928.8C1040.8 2938.2 1043.7 2942.7 1050.0 2949.3C1056.3 2956.0 1064.3 2961.7 1069.4 2968.7C1074.5 2975.7 1077.8 2983.8 1080.8 2991.4C1083.8 2999.0 1085.3 3005.9 1087.2 3014.0C1089.1 3022.1 1090.5 3030.2 1092.1 3039.9C1093.7 3049.6 1095.6 3058.8 1096.9 3072.3C1098.2 3085.8 1099.1 3105.8 1100.2 3120.9C1101.3 3136.0 1103.1 3152.7 1103.4 3162.9C1103.7 3173.2 1102.1 3179.2 1101.8 3182.4" fill="none" stroke="#000" stroke-width="3.8" stroke-linejoin="round" stroke-linecap="round"/>
<path d="M673.8 2720.3C671.4 2720.7 664.6 2722.0 659.2 2722.8C653.8 2723.6 647.1 2724.2 641.6 2725.3C636.1 2726.4 631.5 2727.6 626.5 2729.1C621.5 2730.6 616.4 2732.2 611.4 2734.1C606.4 2736.0 601.3 2737.7 596.3 2740.4C591.3 2743.1 585.4 2746.7 581.2 2750.5C577.0 2754.3 574.5 2758.9 571.1 2763.1C567.7 2767.3 563.9 2771.5 561.0 2775.7C558.1 2779.9 555.8 2782.2 553.5 2788.3C551.2 2794.4 548.2 2808.2 547.2 2812.2" fill="none" stroke="#000" stroke-width="3.8" stroke-linejoin="round" stroke-linecap="round"/>
<path d="M620.2 2765.6C624.3 2765.4 633.4 2764.5 645.0 2764.7C656.6 2764.9 676.4 2764.3 689.9 2766.9C703.4 2769.5 715.4 2774.4 725.9 2780.4C736.4 2786.4 743.9 2793.2 752.9 2802.9C761.9 2812.6 770.9 2826.1 779.9 2838.8C788.9 2851.5 797.8 2865.1 806.8 2879.3C815.8 2893.6 824.8 2908.6 833.8 2924.3C842.8 2940.0 851.8 2957.2 860.8 2973.7C869.8 2990.2 878.8 3007.4 887.8 3023.2C896.8 3038.9 907.2 3053.2 914.7 3068.2C922.2 3083.2 928.6 3098.9 932.7 3113.1C936.8 3127.3 938.0 3142.0 939.5 3153.6C941.0 3165.2 941.3 3177.9 941.7 3182.8" fill="none" stroke="#000" stroke-width="3.8" stroke-linejoin="round" stroke-linecap="round"/>
<path d="M620.2 2765.6C617.1 2766.0 607.8 2766.8 601.3 2768.1C594.8 2769.4 586.7 2771.1 581.2 2773.2C575.8 2775.3 572.8 2777.8 568.6 2780.7C564.4 2783.6 559.8 2787.4 556.0 2790.8C552.2 2794.2 549.7 2800.3 545.9 2800.9C542.1 2801.5 535.4 2795.7 533.3 2794.6" fill="none" stroke="#000" stroke-width="3.8" stroke-linejoin="round" stroke-linecap="round"/>
<path d="M592.5 2825.5C593.8 2825.2 595.0 2823.2 600.0 2823.5C605.0 2823.8 612.0 2823.5 622.5 2827.6C633.0 2831.7 650.2 2838.4 662.9 2847.8C675.6 2857.2 686.9 2870.3 698.9 2883.8C710.9 2897.3 724.4 2912.3 734.9 2928.8C745.4 2945.3 754.4 2965.5 761.9 2982.7C769.4 2999.9 773.9 3016.4 779.9 3032.2C785.9 3047.9 792.6 3061.5 797.8 3077.2C803.0 3092.9 808.3 3109.0 811.3 3126.6C814.3 3144.2 815.0 3173.4 815.8 3182.8" fill="none" stroke="#000" stroke-width="3.8" stroke-linejoin="round" stroke-linecap="round"/>
<path d="M592.5 2825.5C588.9 2825.4 578.9 2823.9 571.1 2824.8C563.3 2825.7 554.3 2828.4 545.9 2831.1C537.5 2833.8 528.2 2838.3 520.7 2841.2C513.2 2844.1 505.2 2847.4 500.6 2848.7C496.0 2850.0 494.3 2849.1 493.0 2849.2" fill="none" stroke="#000" stroke-width="3.8" stroke-linejoin="round" stroke-linecap="round"/>
<path d="M522.7 2892.8C524.8 2892.8 528.8 2891.0 535.0 2893.0C541.2 2895.0 552.5 2899.7 560.0 2905.0C567.5 2910.3 573.3 2918.0 580.0 2925.0C586.7 2932.0 592.9 2939.4 600.0 2946.8C607.1 2954.2 615.0 2961.0 622.5 2969.2C630.0 2977.4 639.0 2983.4 645.0 2996.2C651.0 3008.9 655.5 3028.5 658.5 3045.7C661.5 3062.9 662.2 3083.1 662.9 3099.6C663.6 3116.1 663.3 3130.7 662.9 3144.6C662.5 3158.5 661.1 3176.4 660.7 3182.8" fill="none" stroke="#000" stroke-width="3.8" stroke-linejoin="round" stroke-linecap="round"/>
<path d="M522.7 2892.8C520.1 2892.7 512.7 2891.0 507.2 2892.4C501.7 2893.8 495.6 2897.8 489.9 2901.0C484.1 2904.2 478.4 2908.2 472.7 2911.8C466.9 2915.4 460.4 2919.7 455.4 2922.6C450.4 2925.5 446.8 2926.6 442.5 2929.1C438.2 2931.6 433.5 2934.8 429.5 2937.7C425.5 2940.6 420.5 2944.9 418.7 2946.3" fill="none" stroke="#000" stroke-width="3.8" stroke-linejoin="round" stroke-linecap="round"/>
<path d="M474.1 2835.6C477.7 2833.2 488.6 2826.4 495.5 2821.0C502.4 2815.6 509.8 2808.0 515.7 2803.4C521.6 2798.8 525.1 2796.5 530.8 2793.3C536.5 2790.2 546.6 2786.0 549.7 2784.5" fill="none" stroke="#000" stroke-width="3.8" stroke-linejoin="round" stroke-linecap="round"/>
<path d="M442.2 2878.9C443.5 2876.8 447.6 2870.1 450.2 2866.3C452.8 2862.5 453.8 2861.4 457.8 2856.3C461.8 2851.2 471.4 2839.1 474.1 2835.6" fill="none" stroke="#000" stroke-width="3.8" stroke-linejoin="round" stroke-linecap="round"/>
<path d="M376.6 2972.2C378.6 2971.1 383.3 2969.4 388.5 2965.8C393.7 2962.2 401.8 2956.1 407.9 2950.7C414.0 2945.3 420.3 2938.3 425.2 2933.4C430.1 2928.5 435.1 2923.5 437.1 2921.5" fill="none" stroke="#000" stroke-width="3.8" stroke-linejoin="round" stroke-linecap="round"/>
<path d="M364.0 2996.4C368.3 2990.7 380.9 2970.3 390.0 2962.0C399.1 2953.7 410.8 2953.1 418.7 2946.3C426.6 2939.6 428.6 2932.6 437.1 2921.5C445.7 2910.4 460.7 2892.1 470.0 2880.0C479.3 2867.9 484.7 2860.0 493.0 2849.2C501.3 2838.4 511.0 2821.2 520.0 2815.0C529.0 2808.8 542.7 2812.7 547.2 2812.2" fill="none" stroke="#000" stroke-width="3.8" stroke-linejoin="round" stroke-linecap="round"/>
<path d="M364.0 2996.4C370.0 2988.7 387.8 2962.5 400.0 2950.0C412.2 2937.5 423.8 2936.2 437.1 2921.5C450.4 2906.8 466.2 2880.2 480.0 2862.0C493.8 2843.8 508.4 2824.9 520.0 2812.0C531.6 2799.1 538.2 2799.6 549.7 2784.5C561.2 2769.4 574.2 2743.1 589.2 2721.5C604.2 2699.9 626.2 2672.8 640.0 2655.0C653.8 2637.2 662.5 2626.5 672.0 2615.0C681.5 2603.5 692.8 2590.8 697.0 2586.0" fill="none" stroke="#000" stroke-width="3.8" stroke-linejoin="round" stroke-linecap="round"/>
<path d="M420.0 2946.0C426.7 2937.5 446.7 2911.8 460.0 2895.0C473.3 2878.2 487.8 2861.7 500.0 2845.0C512.2 2828.3 521.6 2810.8 533.3 2794.6C545.0 2778.4 557.2 2764.1 570.0 2748.0C582.8 2731.9 595.0 2717.3 610.0 2698.0C625.0 2678.7 647.5 2647.7 660.0 2632.0C672.5 2616.3 678.5 2611.3 685.0 2604.0C691.5 2596.7 696.7 2590.7 699.0 2588.0" fill="none" stroke="#000" stroke-width="3.8" stroke-linejoin="round" stroke-linecap="round"/>
<circle cx="1001.6" cy="2578.8" r="8.7" fill="#00ff00" stroke="#000" stroke-width="3.2"/>
<circle cx="1118.5" cy="2652.7" r="8.7" fill="#00ff00" stroke="#000" stroke-width="3.2"/>
<circle cx="891.4" cy="2784.9" r="8.7" fill="#00ff00" stroke="#000" stroke-width="3.2"/>
<circle cx="589.2" cy="2721.5" r="9.5" fill="#0000ff" stroke="#000" stroke-width="3.8"/>
<circle cx="549.7" cy="2784.5" r="9.5" fill="#0000ff" stroke="#000" stroke-width="3.8"/>
<circle cx="533.3" cy="2794.6" r="9.5" fill="#0000ff" stroke="#000" stroke-width="3.8"/>
<circle cx="547.2" cy="2812.2" r="9.5" fill="#0000ff" stroke="#000" stroke-width="3.8"/>
<circle cx="474.1" cy="2835.6" r="9.5" fill="#0000ff" stroke="#000" stroke-width="3.8"/>
<circle cx="493" cy="2849.2" r="9.5" fill="#0000ff" stroke="#000" stroke-width="3.8"/>
<circle cx="442.4" cy="2879" r="9.5" fill="#0000ff" stroke="#000" stroke-width="3.8"/>
<circle cx="437.1" cy="2921.5" r="9.5" fill="#0000ff" stroke="#000" stroke-width="3.8"/>
<circle cx="376.6" cy="2972.2" r="9.5" fill="#0000ff" stroke="#000" stroke-width="3.8"/>
<circle cx="363.7" cy="2996.4" r="9.5" fill="#0000ff" stroke="#000" stroke-width="3.8"/>
<circle cx="813.1" cy="2507.8" r="9.2" fill="#ffff00" stroke="#466e96" stroke-width="4"/>
<circle cx="761.9" cy="2586" r="9.2" fill="#ffff00" stroke="#466e96" stroke-width="4"/>
<circle cx="775.4" cy="2688.2" r="9.2" fill="#ffff00" stroke="#466e96" stroke-width="4"/>
<circle cx="673.8" cy="2720.3" r="9.2" fill="#ffff00" stroke="#466e96" stroke-width="4"/>
<circle cx="620.2" cy="2765.6" r="9.2" fill="#ffff00" stroke="#466e96" stroke-width="4"/>
<circle cx="592.5" cy="2825.5" r="9.2" fill="#ffff00" stroke="#466e96" stroke-width="4"/>
<circle cx="522.7" cy="2892.8" r="9.2" fill="#ffff00" stroke="#466e96" stroke-width="4"/>
<circle cx="915.3" cy="2565.3" r="8.7" fill="#ffff00" stroke="#000" stroke-width="3.2"/>
<circle cx="883.7" cy="2584.2" r="8.7" fill="#ffff00" stroke="#000" stroke-width="3.2"/>
</g>
<path d="M230 3183.6 L979 2224.2" stroke="#000" stroke-width="6.5" fill="none"/>
<g clip-path="url(#clipc)"><path d="M222 3183.6 L1146 2224.2" stroke="#ff0000" stroke-width="6.6" stroke-dasharray="33.9 25.3" stroke-dashoffset="34.4" stroke-linecap="round" fill="none"/></g>
<polygon points="216.3,3178 976,2225.5 1144.4,2225.5 224.2,3178" fill="#787878" fill-opacity="0.216"/>
<rect x="223.7" y="2224.2" width="1185.3" height="959.4000000000001" fill="none" stroke="#000" stroke-width="3"/>
<path d="M223.7 2466H237.7M223.7 2705.5H237.7M223.7 2945H237.7M519 3183.6V3168.6M816 3183.6V3168.6M1113 3183.6V3168.6" stroke="#000" stroke-width="3.6" fill="none"/>
<text x="182.5" y="2240.7" font-size="50" text-anchor="end">160</text>
<text x="182.5" y="2482.5" font-size="50" text-anchor="end">120</text>
<text x="182.5" y="2722.0" font-size="50" text-anchor="end">80</text>
<text x="182.5" y="2961.5" font-size="50" text-anchor="end">40</text>
<text x="182.5" y="3200.1" font-size="50" text-anchor="end">0</text>
<text transform="translate(86.3 2760.7) rotate(-90)" font-size="50" text-anchor="middle">Deviator stress q (kPa)</text>
<text x="252.3" y="2300" font-size="42" font-weight="bold" font-style="italic">1.60&lt;e&lt;1.70</text>
<rect x="248.1" y="2360.9" width="111.6" height="77.90000000000009" fill="#e2e2e2" stroke="#000" stroke-width="3"/>
<text x="382.6" y="2421.4" font-size="42.5" font-weight="bold" font-style="italic">Instability region</text>
<text x="747.9" y="2300" font-size="52" font-weight="bold" font-style="italic">SSL</text>
<text x="943.5" y="2341" font-size="50" font-weight="bold" font-style="italic" fill="#e11a1a">IL</text>
<text x="1301.8" y="2295" font-size="55" font-weight="bold">c)</text>
<text x="223.7" y="3261.5" font-size="50" text-anchor="middle">0</text>
<text x="520" y="3261.5" font-size="50" text-anchor="middle">40</text>
<text x="816" y="3261.5" font-size="50" text-anchor="middle">80</text>
<text x="1115" y="3261.5" font-size="50" text-anchor="middle">120</text>
<text x="1412.5" y="3261.5" font-size="50" text-anchor="middle">160</text>
<text x="437" y="3350" font-size="50">Mean effective stress p' (kPa)</text>
</svg></body></html>
